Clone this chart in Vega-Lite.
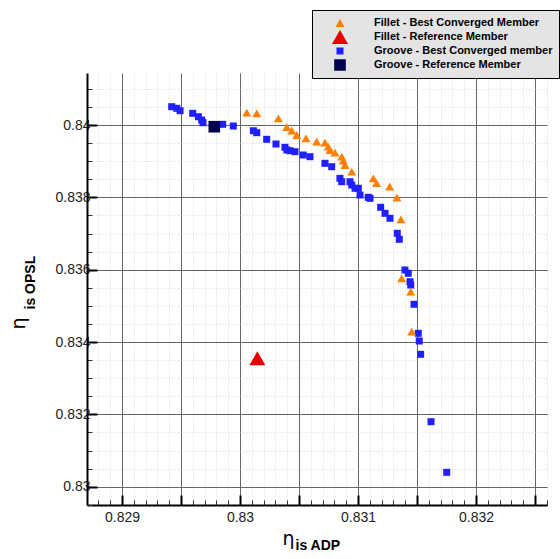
{
  "$schema": "https://vega.github.io/schema/vega-lite/v6.json",
  "width": 460,
  "height": 432,
  "autosize": {"type": "none"},
  "padding": {"left": 87, "top": 73, "right": 13, "bottom": 54},
  "background": "white",
  "config": {
    "view": {"stroke": null},
    "font": "Liberation Sans",
    "legend": {
      "orient": "none",
      "legendX": 225,
      "legendY": -63,
      "fillColor": "#e4e4e4",
      "strokeColor": "black",
      "padding": 6,
      "labelFont": "Liberation Sans",
      "labelFontSize": 11,
      "labelFontWeight": "bold",
      "labelColor": "black",
      "labelLimit": 400,
      "rowPadding": 0,
      "clipHeight": 14,
      "symbolOffset": 14,
      "labelOffset": 26,
      "symbolStrokeWidth": 0
    }
  },
  "datasets": {
    "groove": [
      {"x": 0.829421, "y": 0.840506, "series": "Groove - Best Converged member"},
      {"x": 0.829464, "y": 0.840462, "series": "Groove - Best Converged member"},
      {"x": 0.829492, "y": 0.840395, "series": "Groove - Best Converged member"},
      {"x": 0.829599, "y": 0.840323, "series": "Groove - Best Converged member"},
      {"x": 0.829647, "y": 0.840229, "series": "Groove - Best Converged member"},
      {"x": 0.829675, "y": 0.840138, "series": "Groove - Best Converged member"},
      {"x": 0.829686, "y": 0.840064, "series": "Groove - Best Converged member"},
      {"x": 0.829853, "y": 0.840019, "series": "Groove - Best Converged member"},
      {"x": 0.829943, "y": 0.839972, "series": "Groove - Best Converged member"},
      {"x": 0.830113, "y": 0.839842, "series": "Groove - Best Converged member"},
      {"x": 0.830142, "y": 0.839787, "series": "Groove - Best Converged member"},
      {"x": 0.830226, "y": 0.839605, "series": "Groove - Best Converged member"},
      {"x": 0.830305, "y": 0.839475, "series": "Groove - Best Converged member"},
      {"x": 0.830381, "y": 0.839383, "series": "Groove - Best Converged member"},
      {"x": 0.830398, "y": 0.839309, "series": "Groove - Best Converged member"},
      {"x": 0.830424, "y": 0.83929, "series": "Groove - Best Converged member"},
      {"x": 0.830466, "y": 0.839262, "series": "Groove - Best Converged member"},
      {"x": 0.830536, "y": 0.839171, "series": "Groove - Best Converged member"},
      {"x": 0.830593, "y": 0.839124, "series": "Groove - Best Converged member"},
      {"x": 0.83072, "y": 0.838941, "series": "Groove - Best Converged member"},
      {"x": 0.830777, "y": 0.838847, "series": "Groove - Best Converged member"},
      {"x": 0.830847, "y": 0.838526, "series": "Groove - Best Converged member"},
      {"x": 0.830862, "y": 0.838432, "series": "Groove - Best Converged member"},
      {"x": 0.830932, "y": 0.838432, "series": "Groove - Best Converged member"},
      {"x": 0.830947, "y": 0.838341, "series": "Groove - Best Converged member"},
      {"x": 0.830975, "y": 0.83825, "series": "Groove - Best Converged member"},
      {"x": 0.831003, "y": 0.83825, "series": "Groove - Best Converged member"},
      {"x": 0.831017, "y": 0.838065, "series": "Groove - Best Converged member"},
      {"x": 0.831087, "y": 0.838001, "series": "Groove - Best Converged member"},
      {"x": 0.831102, "y": 0.837973, "series": "Groove - Best Converged member"},
      {"x": 0.831192, "y": 0.837725, "series": "Groove - Best Converged member"},
      {"x": 0.831229, "y": 0.837559, "series": "Groove - Best Converged member"},
      {"x": 0.831271, "y": 0.837421, "series": "Groove - Best Converged member"},
      {"x": 0.831333, "y": 0.837006, "series": "Groove - Best Converged member"},
      {"x": 0.83135, "y": 0.83684, "series": "Groove - Best Converged member"},
      {"x": 0.831398, "y": 0.835991, "series": "Groove - Best Converged member"},
      {"x": 0.831426, "y": 0.8359, "series": "Groove - Best Converged member"},
      {"x": 0.831441, "y": 0.835668, "series": "Groove - Best Converged member"},
      {"x": 0.831447, "y": 0.835576, "series": "Groove - Best Converged member"},
      {"x": 0.831475, "y": 0.835043, "series": "Groove - Best Converged member"},
      {"x": 0.831511, "y": 0.834241, "series": "Groove - Best Converged member"},
      {"x": 0.831519, "y": 0.834028, "series": "Groove - Best Converged member"},
      {"x": 0.831531, "y": 0.833661, "series": "Groove - Best Converged member"},
      {"x": 0.831619, "y": 0.831797, "series": "Groove - Best Converged member"},
      {"x": 0.831752, "y": 0.830398, "series": "Groove - Best Converged member"},
      {"x": 0.829782, "y": 0.839953, "series": "Groove - Reference Member"}
    ],
    "fillet": [
      {"x": 0.830057, "y": 0.84034, "series": "Fillet - Best Converged Member"},
      {"x": 0.830142, "y": 0.840323, "series": "Fillet - Best Converged Member"},
      {"x": 0.830325, "y": 0.840185, "series": "Fillet - Best Converged Member"},
      {"x": 0.830396, "y": 0.839945, "series": "Fillet - Best Converged Member"},
      {"x": 0.830438, "y": 0.839848, "series": "Fillet - Best Converged Member"},
      {"x": 0.830481, "y": 0.839724, "series": "Fillet - Best Converged Member"},
      {"x": 0.830559, "y": 0.839632, "series": "Fillet - Best Converged Member"},
      {"x": 0.83065, "y": 0.839538, "series": "Fillet - Best Converged Member"},
      {"x": 0.83072, "y": 0.839511, "series": "Fillet - Best Converged Member"},
      {"x": 0.830748, "y": 0.8394, "series": "Fillet - Best Converged Member"},
      {"x": 0.830763, "y": 0.839309, "series": "Fillet - Best Converged Member"},
      {"x": 0.830805, "y": 0.839234, "series": "Fillet - Best Converged Member"},
      {"x": 0.830862, "y": 0.839124, "series": "Fillet - Best Converged Member"},
      {"x": 0.830875, "y": 0.839013, "series": "Fillet - Best Converged Member"},
      {"x": 0.83089, "y": 0.838894, "series": "Fillet - Best Converged Member"},
      {"x": 0.830947, "y": 0.838709, "series": "Fillet - Best Converged Member"},
      {"x": 0.83113, "y": 0.838526, "series": "Fillet - Best Converged Member"},
      {"x": 0.831157, "y": 0.838396, "series": "Fillet - Best Converged Member"},
      {"x": 0.831269, "y": 0.838294, "series": "Fillet - Best Converged Member"},
      {"x": 0.83133, "y": 0.837996, "series": "Fillet - Best Converged Member"},
      {"x": 0.831364, "y": 0.837393, "series": "Fillet - Best Converged Member"},
      {"x": 0.83137, "y": 0.835762, "series": "Fillet - Best Converged Member"},
      {"x": 0.831447, "y": 0.835391, "series": "Fillet - Best Converged Member"},
      {"x": 0.831455, "y": 0.834285, "series": "Fillet - Best Converged Member"},
      {"x": 0.830147, "y": 0.83355, "series": "Fillet - Reference Member"}
    ]
  },
  "layer": [
    {
      "data": {"name": "groove"},
      "mark": {"type": "point", "filled": true, "opacity": 1, "strokeWidth": 0},
      "encoding": {
        "x": {
          "field": "x", "type": "quantitative",
          "scale": {"domain": [0.828703, 0.832602], "nice": false, "zero": false},
          "axis": {
            "orient": "bottom",
            "values": [0.8288, 0.8289, 0.829, 0.8291, 0.8292, 0.8293, 0.8294, 0.8295, 0.8296, 0.8297, 0.8298, 0.8299, 0.83, 0.8301, 0.8302, 0.8303, 0.8304, 0.8305, 0.8306, 0.8307, 0.8308, 0.8309, 0.831, 0.8311, 0.8312, 0.8313, 0.8314, 0.8315, 0.8316, 0.8317, 0.8318, 0.8319, 0.832, 0.8321, 0.8322, 0.8323, 0.8324, 0.8325, 0.8326],
            "labels": false,
            "domain": false,
            "ticks": true,
            "tickSize": -5,
            "tickWidth": 1,
            "tickColor": "#333",
            "grid": true,
            "gridColor": "#d6d6d6",
            "gridDash": [1, 2],
            "gridWidth": 1,
            "title": "is ADP",
            "titleFont": "Liberation Sans",
            "titleFontSize": 14,
            "titleFontWeight": "bold",
            "titleColor": "black",
            "titleAlign": "left",
            "titleBaseline": "alphabetic",
            "titleAngle": 0,
            "titleX": 208,
            "titleY": 44
          }
        },
        "y": {
          "field": "y", "type": "quantitative",
          "scale": {"domain": [0.829494, 0.841438], "nice": false, "zero": false},
          "axis": {
            "orient": "left",
            "values": [0.8295, 0.83, 0.8305, 0.831, 0.8315, 0.832, 0.8325, 0.833, 0.8335, 0.834, 0.8345, 0.835, 0.8355, 0.836, 0.8365, 0.837, 0.8375, 0.838, 0.8385, 0.839, 0.8395, 0.84, 0.8405, 0.841],
            "labels": false,
            "domain": false,
            "tickSize": -5,
            "tickWidth": 1,
            "tickColor": "#333",
            "grid": true,
            "gridColor": "#d6d6d6",
            "gridDash": [1, 2],
            "gridWidth": 1,
            "title": "is OPSL",
            "titleFont": "Liberation Sans",
            "titleFontSize": 14,
            "titleFontWeight": "bold",
            "titleColor": "black",
            "titleAngle": 270,
            "titleAlign": "left",
            "titleBaseline": "alphabetic",
            "titleX": -53,
            "titleY": 236
          }
        },
        "color": {
          "field": "series", "type": "nominal",
          "scale": {
            "domain": ["Fillet - Best Converged Member", "Fillet - Reference Member", "Groove - Best Converged member", "Groove - Reference Member"],
            "range": ["#ff7f00", "#e60000", "#1f1fff", "#00004d"]
          },
          "legend": {"title": null}
        },
        "shape": {
          "field": "series", "type": "nominal",
          "scale": {
            "domain": ["Fillet - Best Converged Member", "Fillet - Reference Member", "Groove - Best Converged member", "Groove - Reference Member"],
            "range": ["triangle-up", "triangle-up", "square", "square"]
          },
          "legend": {"title": null}
        },
        "size": {
          "field": "series", "type": "nominal",
          "scale": {
            "type": "ordinal",
            "domain": ["Fillet - Best Converged Member", "Fillet - Reference Member", "Groove - Best Converged member", "Groove - Reference Member"],
            "range": [81, 256, 49, 135]
          },
          "legend": {"title": null}
        }
      }
    },
    {
      "data": {"name": "fillet"},
      "mark": {"type": "point", "filled": true, "opacity": 1, "strokeWidth": 0},
      "encoding": {
        "x": {
          "field": "x", "type": "quantitative",
          "scale": {"domain": [0.828703, 0.832602], "nice": false, "zero": false},
          "axis": {
            "orient": "bottom",
            "values": [0.829, 0.8295, 0.83, 0.8305, 0.831, 0.8315, 0.832, 0.8325],
            "labelExpr": "abs(datum.value*1000 - round(datum.value*1000)) < 0.01 ? format(datum.value, '.4~f') : ''",
            "labelOverlap": false,
            "labelFlush": false,
            "labelFont": "Liberation Sans",
            "labelFontSize": 14,
            "labelColor": "#222",
            "labelPadding": 15,
            "domain": true,
            "domainColor": "black",
            "domainWidth": 2,
            "tickSize": -10,
            "tickWidth": 2,
            "tickColor": "black",
            "grid": true,
            "gridColor": "#666",
            "gridWidth": 1,
            "title": "η",
            "titleFont": "DejaVu Sans",
            "titleFontSize": 19,
            "titleFontWeight": "normal",
            "titleColor": "black",
            "titleAlign": "left",
            "titleBaseline": "alphabetic",
            "titleAngle": 0,
            "titleX": 195,
            "titleY": 39
          }
        },
        "y": {
          "field": "y", "type": "quantitative",
          "scale": {"domain": [0.829494, 0.841438], "nice": false, "zero": false},
          "axis": {
            "orient": "left",
            "values": [0.83, 0.832, 0.834, 0.836, 0.838, 0.84],
            "format": ".3~f",
            "labelOverlap": false,
            "labelFlush": false,
            "labelFont": "Liberation Sans",
            "labelFontSize": 14,
            "labelColor": "#222",
            "labelPadding": 7,
            "domain": true,
            "domainColor": "black",
            "domainWidth": 2,
            "tickSize": -10,
            "tickWidth": 2,
            "tickColor": "black",
            "grid": true,
            "gridColor": "#666",
            "gridWidth": 1,
            "title": "η",
            "titleFont": "DejaVu Sans",
            "titleFontSize": 19,
            "titleFontWeight": "normal",
            "titleColor": "black",
            "titleAngle": 270,
            "titleAlign": "left",
            "titleBaseline": "alphabetic",
            "titleX": -63,
            "titleY": 256
          }
        },
        "color": {
          "field": "series", "type": "nominal",
          "scale": {
            "domain": ["Fillet - Best Converged Member", "Fillet - Reference Member", "Groove - Best Converged member", "Groove - Reference Member"],
            "range": ["#ff7f00", "#e60000", "#1f1fff", "#00004d"]
          },
          "legend": {"title": null}
        },
        "shape": {
          "field": "series", "type": "nominal",
          "scale": {
            "domain": ["Fillet - Best Converged Member", "Fillet - Reference Member", "Groove - Best Converged member", "Groove - Reference Member"],
            "range": ["triangle-up", "triangle-up", "square", "square"]
          },
          "legend": {"title": null}
        },
        "size": {
          "field": "series", "type": "nominal",
          "scale": {
            "type": "ordinal",
            "domain": ["Fillet - Best Converged Member", "Fillet - Reference Member", "Groove - Best Converged member", "Groove - Reference Member"],
            "range": [81, 256, 49, 135]
          },
          "legend": {"title": null}
        }
      }
    }
  ],
  "resolve": {"axis": {"x": "independent", "y": "independent"}}
}
